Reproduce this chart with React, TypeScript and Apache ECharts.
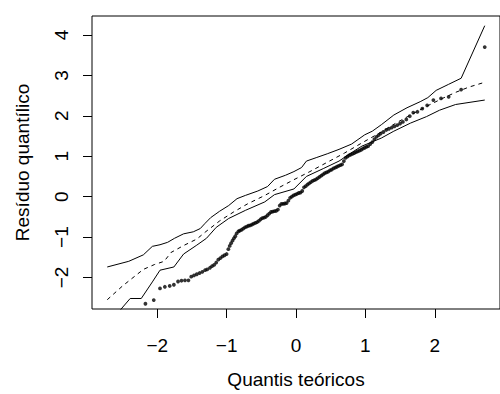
import React, { useEffect, useRef } from "react";
import * as echarts from "echarts";

// Theoretical normal quantiles (x) and ordered quantile residuals (y)
const theoQuantiles = [
  -2.72, -2.33, -2.17, -2.05, -1.96, -1.89, -1.82, -1.76, -1.7, -1.65, -1.6, -1.55, -1.51, -1.47, -1.43, -1.39,
  -1.35, -1.31, -1.28, -1.24, -1.21, -1.18, -1.15, -1.12, -1.09, -1.06, -1.03, -1.0, -0.975, -0.955, -0.935,
  -0.915, -0.895, -0.875, -0.855, -0.83, -0.81, -0.785, -0.76, -0.735, -0.71, -0.685, -0.66, -0.635, -0.61,
  -0.585, -0.56, -0.535, -0.51, -0.485, -0.46, -0.435, -0.41, -0.385, -0.36, -0.335, -0.31, -0.285, -0.26,
  -0.235, -0.21, -0.185, -0.16, -0.135, -0.11, -0.085, -0.06, -0.035, -0.01, 0.015, 0.04, 0.065, 0.09, 0.115,
  0.14, 0.165, 0.19, 0.215, 0.24, 0.265, 0.29, 0.315, 0.34, 0.365, 0.39, 0.415, 0.44, 0.465, 0.49, 0.515, 0.54,
  0.565, 0.59, 0.615, 0.64, 0.665, 0.69, 0.715, 0.74, 0.765, 0.79, 0.815, 0.84, 0.865, 0.89, 0.915, 0.94, 0.965,
  0.99, 1.015, 1.04, 1.07, 1.1, 1.13, 1.16, 1.19, 1.22, 1.26, 1.3, 1.34, 1.38, 1.42, 1.46, 1.5, 1.54, 1.59, 1.64,
  1.69, 1.75, 1.82, 1.89, 1.98, 2.09, 2.2, 2.38, 2.72,
];
const residuals = [
  -3.4, -2.95, -2.65, -2.56, -2.27, -2.23, -2.21, -2.18, -2.1, -2.08, -2.07, -2.07, -1.98, -1.95, -1.92, -1.89,
  -1.86, -1.82, -1.8, -1.76, -1.72, -1.69, -1.63, -1.56, -1.52, -1.48, -1.45, -1.42, -1.3, -1.22, -1.15, -1.09,
  -1.03, -0.98, -0.91, -0.86, -0.84, -0.82, -0.79, -0.76, -0.74, -0.72, -0.71, -0.69, -0.67, -0.65, -0.63, -0.6,
  -0.56, -0.53, -0.52, -0.5, -0.46, -0.42, -0.38, -0.37, -0.36, -0.35, -0.32, -0.22, -0.18, -0.18, -0.17, -0.16,
  -0.1, -0.03, 0.0, 0.03, 0.05, 0.07, 0.09, 0.1, 0.14, 0.23, 0.26, 0.3, 0.33, 0.36, 0.39, 0.41, 0.43, 0.46, 0.49,
  0.52, 0.55, 0.58, 0.6, 0.62, 0.65, 0.67, 0.7, 0.72, 0.74, 0.76, 0.78, 0.8, 0.88, 0.96, 0.99, 1.02, 1.04, 1.06,
  1.08, 1.1, 1.12, 1.14, 1.16, 1.19, 1.21, 1.23, 1.25, 1.3, 1.35, 1.42, 1.48, 1.52, 1.56, 1.6, 1.65, 1.68, 1.71,
  1.74, 1.77, 1.81, 1.85, 1.91, 1.99, 2.08, 2.1, 2.18, 2.26, 2.39, 2.43, 2.47, 2.65, 3.7,
];

// Simulated envelope: upper bound, median (dashed), lower bound
const upperEnvelope: [number, number][] = [
  [-2.72, -1.74], [-2.41, -1.6], [-2.2, -1.44], [-2.07, -1.23], [-1.96, -1.19], [-1.85, -1.13], [-1.75, -1.03],
  [-1.62, -0.92], [-1.48, -0.87], [-1.38, -0.79], [-1.31, -0.66], [-1.23, -0.52], [-1.1, -0.36], [-0.97, -0.22],
  [-0.85, -0.05], [-0.73, 0.03], [-0.55, 0.14], [-0.41, 0.25], [-0.31, 0.43], [-0.15, 0.53], [-0.03, 0.62],
  [0.08, 0.72], [0.15, 0.88], [0.3, 0.97], [0.45, 1.06], [0.62, 1.17], [0.8, 1.3], [0.99, 1.53], [1.1, 1.62],
  [1.23, 1.78], [1.41, 2.02], [1.6, 2.2], [1.79, 2.35], [1.9, 2.45], [2.02, 2.63], [2.2, 2.78], [2.38, 2.93],
  [2.72, 4.23],
];
const medianEnvelope: [number, number][] = [
  [-2.72, -2.55], [-2.5, -2.21], [-2.2, -1.8], [-2.04, -1.68], [-1.9, -1.6], [-1.8, -1.38], [-1.62, -1.21],
  [-1.43, -1.05], [-1.31, -0.88], [-1.1, -0.6], [-0.9, -0.38], [-0.7, -0.18], [-0.45, 0.03], [-0.25, 0.22],
  [-0.03, 0.42], [0.2, 0.62], [0.45, 0.85], [0.7, 1.08], [0.95, 1.33], [1.23, 1.6], [1.45, 1.83], [1.65, 2.02],
  [1.9, 2.25], [2.11, 2.43], [2.3, 2.58], [2.49, 2.71], [2.72, 2.83],
];
const lowerEnvelope: [number, number][] = [
  [-2.72, -3.3], [-2.54, -2.82], [-2.39, -2.52], [-2.23, -2.52], [-2.07, -2.11], [-1.96, -1.82], [-1.76, -1.74],
  [-1.62, -1.42], [-1.43, -1.2], [-1.29, -1.03], [-1.15, -0.76], [-0.97, -0.54], [-0.73, -0.34], [-0.45, -0.13],
  [-0.31, 0.05], [-0.03, 0.19], [0.15, 0.5], [0.4, 0.7], [0.62, 0.88], [0.81, 1.1], [0.95, 1.25], [1.23, 1.45],
  [1.41, 1.62], [1.65, 1.82], [1.88, 1.98], [2.07, 2.14], [2.3, 2.28], [2.72, 2.39],
];

const xTicks = [-2, -1, 0, 1, 2];
const yTicks = [-2, -1, 0, 1, 2, 3, 4];
const xTitle = "Quantis teóricos";
const yTitle = "Resíduo quantílico";

const FONT = "Liberation Sans, Arial, sans-serif";
const FS = 19;
const fmt = (v: number) => String(v).replace("-", "\u2212");

export default function App() {
  const ref = useRef<HTMLDivElement>(null);
  useEffect(() => {
    if (!ref.current) return;
    const chart = echarts.init(ref.current, undefined, { renderer: "svg" });
    const points = theoQuantiles.map((x, i) => [x, residuals[i]]);
    const lineStyleBase = { color: "#000", width: 1 };
    chart.setOption({
      animation: false,
      backgroundColor: "#fff",
      grid: {
        left: 92,
        right: -12.5,
        top: 16,
        bottom: 80,
        show: true,
        borderColor: "#000",
        borderWidth: 1,
        backgroundColor: "transparent",
      },
      xAxis: {
        type: "value",
        min: -2.94,
        max: 2.94,
        name: xTitle,
        nameLocation: "middle",
        nameGap: 61,
        nameTextStyle: { color: "#000", fontSize: FS, fontFamily: FONT },
        axisLine: { show: false, onZero: false },
        splitLine: { show: false },
        axisTick: {
          show: true,
          length: 9,
          inside: false,
          customValues: xTicks,
          lineStyle: { color: "#000", width: 1 },
        },
        axisLabel: {
          show: true,
          margin: 27,
          color: "#000",
          fontSize: FS,
          fontFamily: FONT,
          customValues: xTicks,
          formatter: (v: number) => fmt(v),
        },
      },
      yAxis: {
        type: "value",
        min: -2.78,
        max: 4.47,
        name: yTitle,
        nameLocation: "middle",
        nameGap: 60,
        nameRotate: 90,
        nameTextStyle: { color: "#000", fontSize: FS, fontFamily: FONT },
        axisLine: { show: false, onZero: false },
        splitLine: { show: false },
        axisTick: {
          show: true,
          length: 9,
          inside: false,
          customValues: yTicks,
          lineStyle: { color: "#000", width: 1 },
        },
        axisLabel: {
          show: true,
          rotate: 90,
          margin: 21,
          color: "#000",
          fontSize: FS,
          fontFamily: FONT,
          customValues: yTicks,
          formatter: (v: number) => fmt(v),
        },
      },
      series: [
        {
          type: "line",
          data: upperEnvelope,
          showSymbol: false,
          symbol: "none",
          clip: true,
          lineStyle: { ...lineStyleBase },
          silent: true,
        },
        {
          type: "line",
          data: lowerEnvelope,
          showSymbol: false,
          symbol: "none",
          clip: true,
          lineStyle: { ...lineStyleBase },
          silent: true,
        },
        {
          type: "line",
          data: medianEnvelope,
          showSymbol: false,
          symbol: "none",
          clip: true,
          lineStyle: { ...lineStyleBase, type: [4, 4] },
          silent: true,
        },
        {
          type: "scatter",
          data: points,
          symbol: "circle",
          symbolSize: 3.8,
          clip: true,
          itemStyle: { color: "#000" },
          silent: true,
        },
      ],
    });
    return () => chart.dispose();
  }, []);
  return (
    <div
      ref={ref}
      style={{ position: "absolute", left: 0, top: 0, width: 500, height: 394, background: "#fff" }}
    />
  );
}
